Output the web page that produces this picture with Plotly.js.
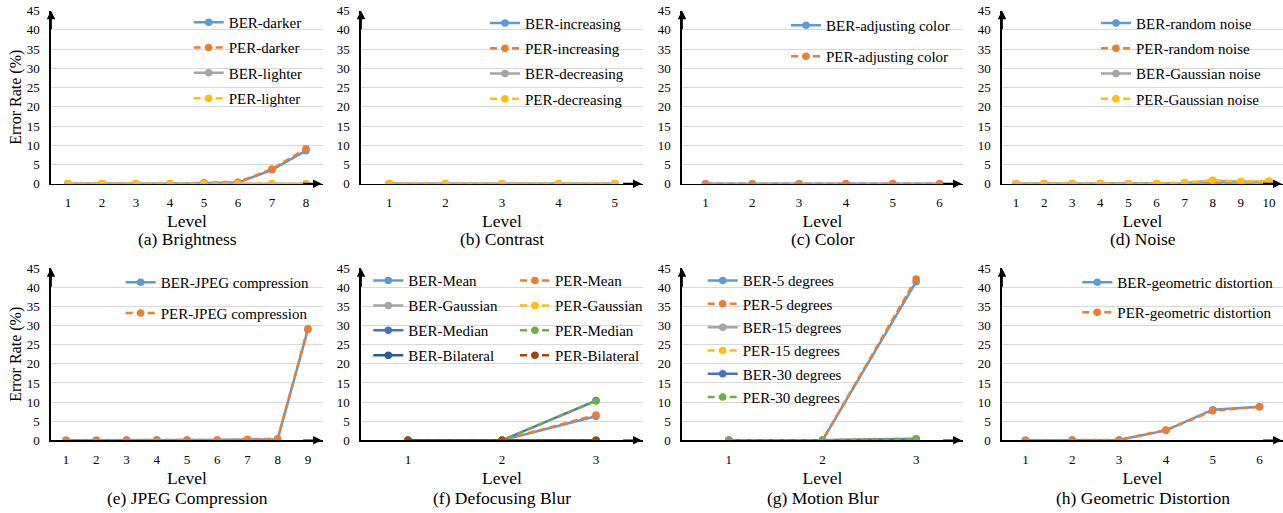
<!DOCTYPE html>
<html><head><meta charset="utf-8">
<script src="https://cdn.plot.ly/plotly-3.0.1.min.js"></script>
<style>html,body{margin:0;padding:0;background:#fff}#chart{width:1283px;height:513px}</style>
</head><body><div id="chart"></div>
<script>
// ---------- data ----------
const levelsA = [1,2,3,4,5,6,7,8];
const berDarker   = [0,0,0,0,0.2,0.3,3.6,8.6];
const perDarker   = [0,0,0,0,0.2,0.4,3.8,9.1];
const berLighter  = [0,0,0,0,0,0,0,0];
const perLighter  = [0,0,0,0,0,0,0,0];

const levelsB = [1,2,3,4,5];
const berIncreasing = [0,0,0,0,0];
const perIncreasing = [0,0,0,0,0];
const berDecreasing = [0,0,0,0,0];
const perDecreasing = [0,0,0,0,0];

const levelsC = [1,2,3,4,5,6];
const berColor = [0,0,0,0,0,0];
const perColor = [0,0,0,0,0.05,0];

const levelsD = [1,2,3,4,5,6,7,8,9,10];
const berRandom   = [0,0,0,0,0,0,0.1,0.2,0.2,0.3];
const perRandom   = [0,0,0,0,0,0,0.05,0.05,0.05,0.1];
const berGaussian = [0,0,0,0,0,0,0.2,0.8,0.5,0.6];
const perGaussian = [0,0,0,0,0,0,0.3,0.9,0.6,0.7];

const levelsE = [1,2,3,4,5,6,7,8,9];
const berJpeg = [0,0,0.05,0.1,0.1,0.1,0.2,0.3,29.0];
const perJpeg = [0,0,0.05,0.1,0.1,0.1,0.2,0.4,29.2];

const levelsF = [1,2,3];
const berMean = [0,0,6.3];
const perMean = [0,0,6.6];
const berGaussBlur = [0,0,0];
const perGaussBlur = [0,0,0];
const berMedian = [0,0,10.4];
const perMedian = [0,0,10.3];
const berBilateral = [0,0,0];
const perBilateral = [0,0,0];

const levelsG = [1,2,3];
const ber5  = [0,0,41.5];
const per5  = [0,0,42.2];
const ber15 = [0,0,0.4];
const per15 = [0,0,0.5];
const ber30 = [0,0,0.3];
const per30 = [0,0,0.3];

const levelsH = [1,2,3,4,5,6];
const berGeo = [0,0.05,0.1,2.6,8.0,8.8];
const perGeo = [0,0.05,0.1,2.7,7.7,8.8];

const captions = ['(a) Brightness','(b) Contrast','(c) Color','(d) Noise',
                  '(e) JPEG Compression','(f) Defocusing Blur','(g) Motion Blur','(h) Geometric Distortion'];

// ---------- styling ----------
const C = {blue:'#5B9BD5', orange:'#ED7D31', gray:'#A5A5A5', yellow:'#FFC000',
           dblue:'#4472C4', green:'#70AD47', navy:'#255E91', brown:'#9E480E'};
const FONT = 'Liberation Serif, Times New Roman, serif';
const W = 1283, H = 513;
const colPx = [[51,323],[361,643],[682,963],[1002,1283]];
const rowPx = [[10.7,183.7],[268.3,440.3]];

let gi = 0;
function tr(k, x, y, name, color, dashed, legend) {
  gi++;
  return {
    type:'scatter', mode:'lines+markers', x:x, y:y, name:name,
    xaxis: k===1?'x':'x'+k, yaxis: k===1?'y':'y'+k,
    legend: legend, legendgroup:'g'+gi,
    line:{color:color, width:2.5, dash: dashed ? '7px,4px' : 'solid'},
    marker:{color:color, size:7.5}
  };
}

const data = [
  tr(1, levelsA, berDarker, 'BER-darker', C.blue, false, 'legend'),
  tr(1, levelsA, perDarker, 'PER-darker', C.orange, true, 'legend'),
  tr(1, levelsA, berLighter, 'BER-lighter', C.gray, false, 'legend'),
  tr(1, levelsA, perLighter, 'PER-lighter', C.yellow, true, 'legend'),

  tr(2, levelsB, berIncreasing, 'BER-increasing', C.blue, false, 'legend2'),
  tr(2, levelsB, perIncreasing, 'PER-increasing', C.orange, true, 'legend2'),
  tr(2, levelsB, berDecreasing, 'BER-decreasing', C.gray, false, 'legend2'),
  tr(2, levelsB, perDecreasing, 'PER-decreasing', C.yellow, true, 'legend2'),

  tr(3, levelsC, berColor, 'BER-adjusting color', C.blue, false, 'legend3'),
  tr(3, levelsC, perColor, 'PER-adjusting color', C.orange, true, 'legend3'),

  tr(4, levelsD, berRandom, 'BER-random noise', C.blue, false, 'legend4'),
  tr(4, levelsD, perRandom, 'PER-random noise', C.orange, true, 'legend4'),
  tr(4, levelsD, berGaussian, 'BER-Gaussian noise', C.gray, false, 'legend4'),
  tr(4, levelsD, perGaussian, 'PER-Gaussian noise', C.yellow, true, 'legend4'),

  tr(5, levelsE, berJpeg, 'BER-JPEG compression', C.blue, false, 'legend5'),
  tr(5, levelsE, perJpeg, 'PER-JPEG compression', C.orange, true, 'legend5'),

  tr(6, levelsF, berMean, 'BER-Mean', C.blue, false, 'legend6'),
  tr(6, levelsF, berGaussBlur, 'BER-Gaussian', C.gray, false, 'legend6'),
  tr(6, levelsF, berMedian, 'BER-Median', C.dblue, false, 'legend6'),
  tr(6, levelsF, berBilateral, 'BER-Bilateral', C.navy, false, 'legend6'),
  tr(6, levelsF, perMean, 'PER-Mean', C.orange, true, 'legend7'),
  tr(6, levelsF, perGaussBlur, 'PER-Gaussian', C.yellow, true, 'legend7'),
  tr(6, levelsF, perMedian, 'PER-Median', C.green, true, 'legend7'),
  tr(6, levelsF, perBilateral, 'PER-Bilateral', C.brown, true, 'legend7'),

  tr(7, levelsG, ber5, 'BER-5 degrees', C.blue, false, 'legend8'),
  tr(7, levelsG, per5, 'PER-5 degrees', C.orange, true, 'legend8'),
  tr(7, levelsG, ber15, 'BER-15 degrees', C.gray, false, 'legend8'),
  tr(7, levelsG, per15, 'PER-15 degrees', C.yellow, true, 'legend8'),
  tr(7, levelsG, ber30, 'BER-30 degrees', C.dblue, false, 'legend8'),
  tr(7, levelsG, per30, 'PER-30 degrees', C.green, true, 'legend8'),

  tr(8, levelsH, berGeo, 'BER-geometric distortion', C.blue, false, 'legend9'),
  tr(8, levelsH, perGeo, 'PER-geometric distortion', C.orange, true, 'legend9'),
];

const levelSets = [levelsA, levelsB, levelsC, levelsD, levelsE, levelsF, levelsG, levelsH];

const layout = {
  width:W, height:H, margin:{l:0,r:0,t:0,b:0},
  paper_bgcolor:'#fff', plot_bgcolor:'rgba(0,0,0,0)',
  font:{family:FONT, color:'#000'},
  showlegend:true, annotations:[]
};

for (let k=1; k<=8; k++) {
  const col = (k-1)%4, row = Math.floor((k-1)/4);
  const xs = colPx[col], ys = rowPx[row];
  const lv = levelSets[k-1];
  const xa = k===1?'xaxis':'xaxis'+k, ya = k===1?'yaxis':'yaxis'+k;
  const xid = k===1?'x':'x'+k, yid = k===1?'y':'y'+k;
  layout[xa] = {
    domain:[xs[0]/W, xs[1]/W], anchor:yid,
    range:[0.5, lv.length+0.5], tickvals:lv, ticktext:lv.map(String),
    showgrid:false, zeroline:false, showline:true, linecolor:'#000', linewidth:1.7,
    ticks:'', ticklabelstandoff:6, tickfont:{family:FONT, size:13, color:'#000'},
    title:{text:'Level', font:{family:FONT, size:17.5, color:'#000'}, standoff:6},
    fixedrange:true
  };
  layout[ya] = {
    domain:[1-ys[1]/H, 1-ys[0]/H], anchor:xid,
    range:[0,45], tickvals:[0,5,10,15,20,25,30,35,40,45],
    showgrid:true, gridcolor:'#D9D9D9', gridwidth:1, zeroline:false,
    showline:true, linecolor:'#000', linewidth:1.7,
    ticks:'', ticklabelstandoff:7, tickfont:{family:FONT, size:13, color:'#000'},
    fixedrange:true
  };
  if (col===0) layout[ya].title = {text:'Error Rate (%)', font:{family:FONT, size:16, color:'#000'}, standoff:1};
  // arrowheads on axes
  layout.annotations.push({xref:xid+' domain', yref:yid+' domain', x:0, y:1.0, ax:0, ay:20,
    showarrow:true, arrowhead:2, arrowsize:1, arrowwidth:1.7, arrowcolor:'#000', text:''});
  layout.annotations.push({xref:xid+' domain', yref:yid+' domain', x:0.995, y:0, ax:-20, ay:0,
    showarrow:true, arrowhead:2, arrowsize:1, arrowwidth:1.7, arrowcolor:'#000', text:''});
  // caption
  layout.annotations.push({xref:'paper', yref:'paper', x:(xs[0]+xs[1])/2/W,
    y:1-(row===0?239.3:497.7)/H, yanchor:'middle', xanchor:'center', showarrow:false,
    text:captions[k-1], font:{family:FONT, size:17.5, color:'#000'}});
}

function lg(px, py, gap) {
  return {x:px/W, y:1-py/H, xanchor:'left', yanchor:'top', bgcolor:'rgba(0,0,0,0)',
    borderwidth:0, font:{family:FONT, size:15, color:'#000'}, traceorder:'grouped',
    tracegroupgap:gap};
}
layout.legend  = lg(188.7, 6, 2.8);
layout.legend2 = lg(485, 6.7, 2.8);
layout.legend3 = lg(786, 9, 8.5);
layout.legend4 = lg(1096, 6.7, 2.8);
layout.legend5 = lg(120.7, 266, 8.2);
layout.legend6 = lg(368.3, 264.3, 2.4);
layout.legend7 = lg(515, 264.3, 2.4);
layout.legend8 = lg(702.7, 264.3, 0.8);
layout.legend9 = lg(1077.3, 266, 7.5);

Plotly.newPlot('chart', data, layout, {staticPlot:true, displayModeBar:false});
</script></body></html>
